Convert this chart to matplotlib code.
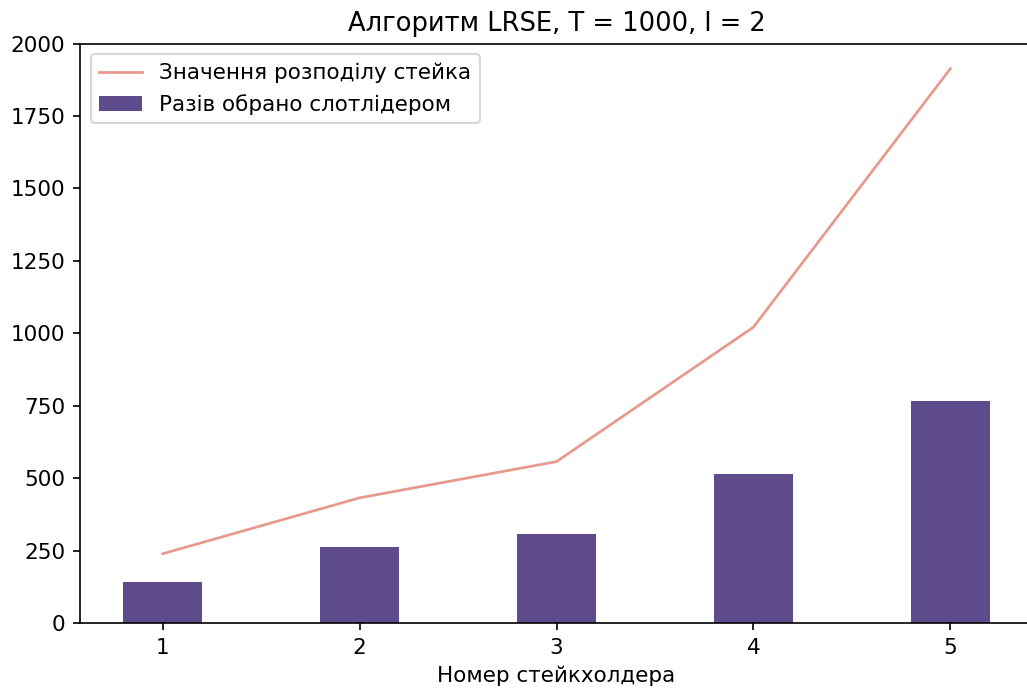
import matplotlib
matplotlib.use("Agg")
import matplotlib.pyplot as plt

holders = [1, 2, 3, 4, 5]
stake_values = [239, 432, 557, 1021, 1913]
leader_counts = [142, 264, 306, 514, 765]

title = "Алгоритм LRSE, T = 1000, l = 2"
xlabel = "Номер стейкхолдера"
line_label = "Значення розподілу стейка"
bar_label = "Разів обрано слотлідером"

plt.rcParams["font.size"] = 10.3

dpi = 150
fig = plt.figure(figsize=(1027 / dpi, 691 / dpi), dpi=dpi)
ax = fig.add_axes([80 / 1027, 68 / 691, (1033 - 80) / 1027, (623 - 43.5) / 691])

ax.plot(holders, stake_values, color="#E8998D", lw=1.3, label=line_label)
ax.bar(holders, leader_counts, width=0.4, color="#5E4B8B", label=bar_label)

ax.set_ylim(0, 2000)
ax.set_yticks(range(0, 2001, 250))
ax.set_xticks(holders)
ax.set_xlim(0.58, 5.42)
ax.set_title(title)
ax.set_xlabel(xlabel)
ax.spines["right"].set_visible(False)
ax.legend(loc="upper left")

fig.savefig("out.png", dpi=dpi)
